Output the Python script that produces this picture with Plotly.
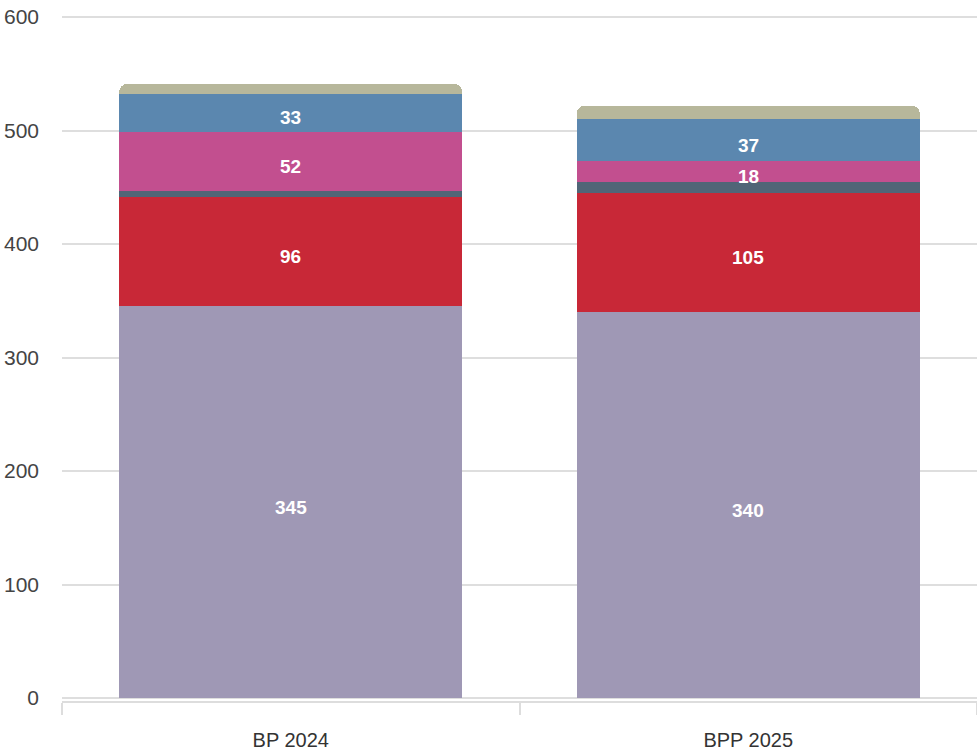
import plotly.graph_objects as go

categories = ["BP 2024", "BPP 2025"]

# stacked series, bottom to top
s1 = [345, 340]   # purple
s2 = [96, 105]    # red
s3 = [6, 10]      # dark slate
s4 = [52, 18]     # pink
s5 = [33, 37]     # blue
s6 = [9, 12]      # beige

series = [
    ("Série 1", s1, "#9f98b5", True),
    ("Série 2", s2, "#c82837", True),
    ("Série 3", s3, "#506577", False),
    ("Série 4", s4, "#c24f8f", True),
    ("Série 5", s5, "#5b87af", True),
    ("Série 6", s6, "#b7b79b", False),
]

y_ticks = [0, 100, 200, 300, 400, 500, 600]

fig = go.Figure()
base = [0] * len(categories)
annotations = []
for name, vals, color, labelled in series:
    fig.add_trace(go.Bar(
        x=categories, y=vals, name=name,
        marker=dict(color=color, line=dict(width=0)),
        showlegend=False,
    ))
    if labelled:
        for i, (c, v) in enumerate(zip(categories, vals)):
            annotations.append(dict(
                x=c, y=base[i] + v / 2, xref="x", yref="y",
                text=str(v), showarrow=False, yshift=-5,
                font=dict(family="Liberation Sans, Arial, sans-serif", size=19,
                          color="white", weight="bold"),
            ))
    base = [b + v for b, v in zip(base, vals)]

fig.update_layout(
    barmode="stack",
    bargap=0.25,
    barcornerradius=8,
    width=977, height=753,
    margin=dict(l=62, r=0, t=14, b=52),
    plot_bgcolor="white", paper_bgcolor="white",
    font=dict(family="Liberation Sans, Arial, sans-serif"),
    showlegend=False,
    annotations=annotations,
)
fig.update_yaxes(
    range=[-2.64, 602.64],
    tickvals=y_ticks,
    showgrid=True, gridcolor="#dedede", gridwidth=1.5,
    zeroline=False, showline=False,
    tickfont=dict(size=21, color="#444444"),
    ticklabelstandoff=22,
    ticklabeloverflow="allow",
    automargin=False,
)
fig.update_xaxes(
    showline=True, linecolor="#dddddd", linewidth=1.5,
    ticks="outside", tickson="boundaries", ticklen=12, tickcolor="#dddddd", tickwidth=1.5,
    tickfont=dict(size=20, color="#333333"),
    ticklabelstandoff=20,
    automargin=False,
)

fig.write_html(
    "out.html",
    config={"displayModeBar": False},
    post_script="document.body.style.margin='0';document.body.style.overflow='hidden';",
)
